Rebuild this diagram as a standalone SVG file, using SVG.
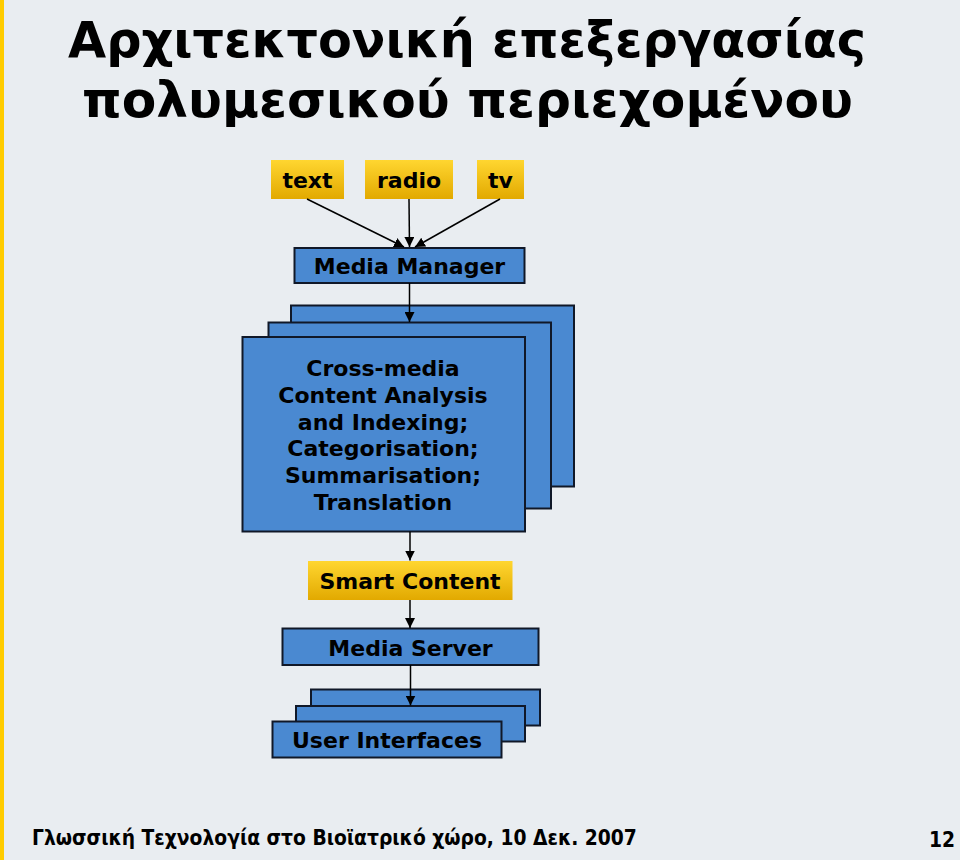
<svg xmlns="http://www.w3.org/2000/svg" width="960" height="860" viewBox="0 0 960 860">
<defs>
<linearGradient id="yg" x1="0" y1="0" x2="0" y2="1">
<stop offset="0" stop-color="#FFD630"/>
<stop offset="1" stop-color="#E2A900"/>
</linearGradient>
<marker id="ah" viewBox="0 0 10 10" refX="10" refY="5" markerWidth="10" markerHeight="10" markerUnits="userSpaceOnUse" orient="auto">
<path d="M0,0 L10,5 L0,10 Z" fill="#000"/>
</marker>
<style>
.t{font-family:"DejaVu Sans",Verdana,sans-serif;font-weight:bold;fill:#000;text-anchor:middle;font-size:22px}
.ttl{font-family:"DejaVu Sans",Verdana,sans-serif;font-weight:bold;fill:#000;font-size:50.5px}
.ft{font-family:"DejaVu Sans Condensed","DejaVu Sans",sans-serif;font-weight:bold;fill:#000;font-size:20.8px}
.y{fill:url(#yg);stroke:none}
.b{fill:#4A89D1;stroke:#101828;stroke-width:2}
.c{stroke:#000;stroke-width:1.5;fill:none;marker-end:url(#ah)}
</style>
</defs>
<rect x="0" y="0" width="960" height="860" fill="#E9EDF1"/>
<rect x="0" y="0" width="4" height="860" fill="#FFCC00"/>
<g id="title">
<text class="ttl" x="68" y="57" textLength="798" lengthAdjust="spacingAndGlyphs">Αρχιτεκτονική επεξεργασίας</text>
<text class="ttl" x="82" y="117" textLength="771" lengthAdjust="spacingAndGlyphs">πολυμεσικού περιεχομένου</text>
</g>
<g id="n-text"><rect class="y" x="271" y="160" width="73" height="39"/><text class="t" x="307.5" y="188">text</text></g>
<g id="n-radio"><rect class="y" x="365" y="160" width="88" height="39"/><text class="t" x="409" y="188">radio</text></g>
<g id="n-tv"><rect class="y" x="477" y="160" width="47" height="39"/><text class="t" x="500.5" y="188">tv</text></g>
<g id="n-mediamanager"><rect class="b" x="294.5" y="248" width="230" height="35"/><text class="t" x="409.5" y="274">Media Manager</text></g>
<g id="n-analysis">
<rect class="b" x="291" y="305.5" width="283" height="181"/>
<rect class="b" x="268.5" y="322.5" width="282.5" height="186"/>
<rect class="b" x="242.5" y="337" width="282.5" height="194.5"/>
<text class="t" x="383"><tspan x="383" y="376">Cross-media</tspan><tspan x="383" y="403">Content Analysis</tspan><tspan x="383" y="429.5">and Indexing;</tspan><tspan x="383" y="456">Categorisation;</tspan><tspan x="383" y="483">Summarisation;</tspan><tspan x="383" y="510">Translation</tspan></text>
</g>
<g id="n-smartcontent"><rect class="y" x="308" y="561" width="204.5" height="39"/><text class="t" x="410" y="589">Smart Content</text></g>
<g id="n-mediaserver"><rect class="b" x="282.5" y="628.5" width="256" height="36.5"/><text class="t" x="410.5" y="656">Media Server</text></g>
<g id="n-ui">
<rect class="b" x="311" y="689.5" width="229" height="36"/>
<rect class="b" x="296" y="706" width="229" height="35.5"/>
<rect class="b" x="272.5" y="721.5" width="229" height="36"/>
<text class="t" x="387" y="748" font-size="22.5">User Interfaces</text>
</g>
<g id="connectors">
<line class="c" x1="307" y1="199" x2="404" y2="247"/>
<line class="c" x1="409" y1="199" x2="409.5" y2="247"/>
<line class="c" x1="500" y1="199" x2="415" y2="247"/>
<line class="c" x1="409.5" y1="283" x2="409.5" y2="322"/>
<line class="c" x1="410" y1="531.5" x2="410" y2="560.5"/>
<line class="c" x1="410" y1="600" x2="410" y2="628"/>
<line class="c" x1="410.5" y1="665" x2="410.5" y2="705.5"/>
</g>
<g id="footer">
<text class="ft" x="32" y="845">Γλωσσική Τεχνολογία στο Βιοϊατρικό χώρο, 10 Δεκ. 2007</text>
<text class="ft" x="955" y="847" text-anchor="end">12</text>
</g>
</svg>
